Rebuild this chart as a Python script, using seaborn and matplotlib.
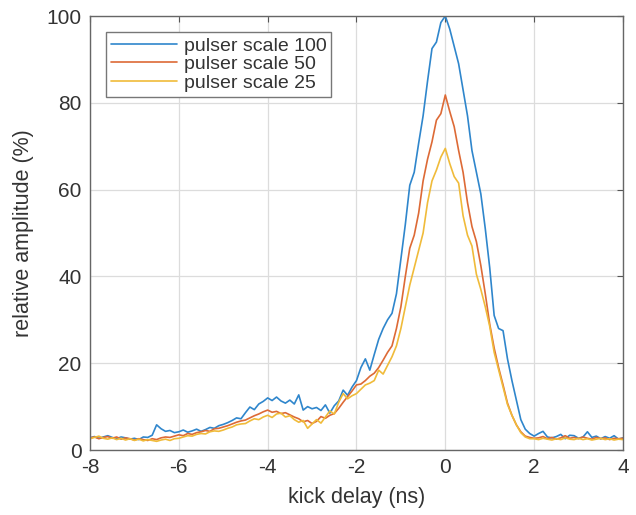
import numpy as np
import pandas as pd
import matplotlib
matplotlib.use("Agg")
import matplotlib.pyplot as plt
import seaborn as sns

# kick delay axis, 0.1 ns steps from -8 to 4 ns
delay_start, delay_stop, delay_step = -8.0, 4.0, 0.1

series_names = ["pulser scale 100", "pulser scale 50", "pulser scale 25"]

amp_100 = [
    2.8, 3.1, 2.7, 3.0, 3.3, 2.9, 2.6, 3.0, 2.8, 2.5,
    2.7, 2.4, 3.0, 2.9, 3.4, 5.8, 4.9, 4.3, 4.5, 4.0,
    4.2, 4.6, 4.1, 4.4, 4.8, 4.3, 4.7, 5.2, 5.0, 5.6,
    5.9, 6.3, 6.8, 7.4, 7.2, 8.6, 9.9, 9.3, 10.6, 11.2,
    12.0, 11.4, 12.2, 11.3, 10.8, 11.5, 10.6, 12.7, 9.2, 10.0,
    9.5, 9.8, 9.1, 10.4, 8.5, 10.2, 11.3, 13.8, 12.6, 14.5,
    16.0, 19.0, 21.0, 18.4, 22.0, 25.5, 28.0, 30.0, 31.5, 36.0,
    44.0, 52.0, 61.0, 64.0, 70.7, 77.0, 85.0, 92.5, 94.0, 98.5,
    100.0, 97.0, 93.0, 89.0, 83.0, 77.0, 69.0, 64.0, 59.0, 51.0,
    42.0, 31.0, 28.0, 27.5, 21.0, 16.0, 11.5, 7.0, 4.8, 3.8,
    3.2, 3.8, 4.3, 3.0, 2.8, 3.1, 3.6, 2.6, 3.4, 3.3,
    2.7, 3.0, 4.2, 2.9, 3.2, 2.6, 3.1, 2.7, 3.3, 2.5,
    2.8,
]

amp_50 = [
    2.8, 3.0, 2.6, 2.9, 3.1, 2.7, 3.0, 2.5, 2.8, 2.6,
    2.3, 2.6, 2.4, 2.2, 2.6, 2.4, 2.8, 3.0, 2.9, 3.2,
    3.5, 3.3, 3.8, 3.6, 4.0, 4.2, 4.5, 4.3, 4.9, 5.0,
    5.3, 5.6, 6.0, 6.4, 6.7, 6.9, 7.4, 7.9, 8.3, 8.8,
    9.2, 8.7, 8.9, 8.4, 8.6, 8.1, 7.6, 7.2, 6.5, 6.8,
    6.1, 6.6, 7.7, 7.3, 8.0, 8.4, 9.6, 11.0, 12.3, 13.6,
    15.0, 15.2, 16.0, 17.0, 17.7, 19.0, 20.7, 22.5, 24.0, 28.0,
    33.0, 40.0, 46.5, 49.5, 54.6, 62.0, 67.0, 71.0, 76.0, 77.5,
    81.8, 78.0, 74.5, 69.0, 64.0, 57.0, 51.5, 48.0, 42.5, 36.0,
    29.0, 23.5, 19.0, 15.0, 10.8, 8.0, 5.8, 4.2, 3.2, 2.9,
    2.7, 2.8, 3.1, 2.6, 2.9, 2.5, 2.8, 3.3, 2.7, 2.9,
    2.6, 3.0, 2.7, 2.5, 2.9, 2.6, 2.8, 2.4, 2.7, 2.6,
    2.7,
]

amp_25 = [
    2.6, 2.9, 3.2, 2.7, 2.5, 2.8, 2.4, 2.7, 2.3, 2.6,
    2.2, 2.5, 2.1, 2.4, 2.2, 2.0, 2.3, 2.5, 2.2, 2.6,
    2.7, 3.0, 3.3, 3.2, 3.6, 3.8, 3.7, 4.2, 4.4, 4.3,
    4.6, 5.0, 5.3, 5.8, 6.0, 6.1, 6.7, 7.2, 7.0, 7.6,
    8.0, 7.5, 8.3, 8.5, 7.6, 7.9, 7.0, 6.4, 6.8, 5.0,
    6.0, 7.0, 6.2, 7.6, 9.0, 8.3, 11.0, 13.0, 11.8, 12.5,
    13.0, 14.0, 15.0, 15.4, 16.0, 18.4, 17.5, 19.5, 21.5, 24.0,
    28.0, 33.0, 38.0, 42.0, 46.0, 50.0, 57.0, 62.0, 64.5, 67.5,
    69.5, 66.0, 63.0, 61.5, 54.0, 49.5, 47.0, 40.5, 37.0, 33.0,
    28.5, 22.5, 18.5, 14.5, 10.5, 8.0, 5.8, 4.0, 3.0, 2.6,
    2.6, 2.4, 2.7, 2.5, 2.3, 2.6, 2.4, 2.8, 2.5, 2.4,
    2.7, 2.4, 2.6, 2.3, 2.5, 2.7, 2.4, 2.6, 2.3, 2.5,
    2.4,
]

x_ticks = [-8, -6, -4, -2, 0, 2, 4]
y_ticks = [0, 20, 40, 60, 80, 100]

line_colors = ["#2f86cc", "#dd6a36", "#f0bb3a"]

delay = np.round(np.arange(delay_start, delay_stop + delay_step / 2, delay_step), 2)
frames = []
for name, vals in zip(series_names, [amp_100, amp_50, amp_25]):
    frames.append(pd.DataFrame({"delay": delay, "amplitude": vals, "series": name}))
df = pd.concat(frames, ignore_index=True)

sns.set_style("white")
plt.rcParams["font.family"] = ["Liberation Sans", "DejaVu Sans"]

fig = plt.figure(figsize=(6.36, 5.15), dpi=100)
ax = fig.add_axes([0.1415, 0.1262, 0.838, 0.8427])

sns.lineplot(data=df, x="delay", y="amplitude", hue="series",
             hue_order=series_names, palette=line_colors,
             linewidth=1.2, ax=ax, legend=True)

ax.set_xlim(-8, 4)
ax.set_ylim(0, 100)
ax.set_xticks(x_ticks)
ax.set_yticks(y_ticks)
ax.set_xticklabels([str(t) for t in x_ticks])
ax.set_yticklabels([str(t) for t in y_ticks])
ax.grid(True, color="#dcdcdc", linewidth=0.9)
ax.set_axisbelow(True)
ax.tick_params(direction="in", length=4, width=0.8, colors="#555555",
               labelcolor="#333333", labelsize=15, top=True, right=True,
               pad=6)
for sp in ax.spines.values():
    sp.set_visible(True)
    sp.set_color("#666666")
    sp.set_linewidth(1.0)

ax.set_xlabel("kick delay (ns)", fontsize=15.5, color="#333333", labelpad=7)
ax.set_ylabel("relative amplitude (%)", fontsize=15.5, color="#333333", labelpad=9)

leg = ax.legend(loc="upper left", bbox_to_anchor=(0.03, 0.963), fontsize=14,
                frameon=True, fancybox=False, framealpha=1, edgecolor="#777777",
                handlelength=3.4, handletextpad=0.35, borderpad=0.25,
                labelspacing=0.05, borderaxespad=0.0)
leg.get_frame().set_linewidth(1.0)
for t in leg.get_texts():
    t.set_color("#333333")

fig.savefig("out.png", dpi=100)
